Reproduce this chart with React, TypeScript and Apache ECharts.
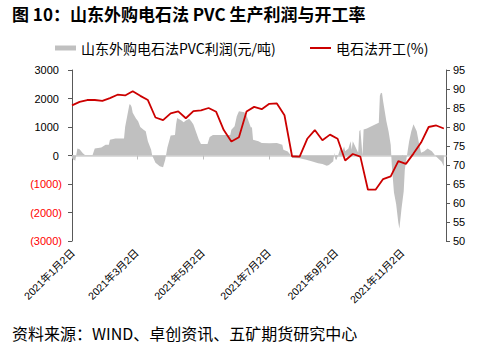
import React, { useEffect, useRef } from "react";
import * as echarts from "echarts";

// 山东外购电石法PVC利润 (元/吨)
const profitDates = [
  "2021-01-01","2021-01-04","2021-01-06","2021-01-08","2021-01-11","2021-01-13","2021-01-20","2021-01-22","2021-01-28",
  "2021-02-01","2021-02-04","2021-02-05","2021-02-10","2021-02-18","2021-02-19","2021-02-23","2021-02-24","2021-02-25","2021-02-26",
  "2021-03-01","2021-03-03","2021-03-05","2021-03-08","2021-03-10","2021-03-12","2021-03-15","2021-03-16","2021-03-19","2021-03-23","2021-03-26","2021-03-28","2021-03-30",
  "2021-04-02","2021-04-06","2021-04-07","2021-04-08","2021-04-12","2021-04-14","2021-04-16","2021-04-19","2021-04-21","2021-04-23","2021-04-28","2021-04-30",
  "2021-05-06","2021-05-08","2021-05-11","2021-05-27","2021-05-28","2021-05-31",
  "2021-06-02","2021-06-04","2021-06-09","2021-06-11","2021-06-15","2021-06-16","2021-06-17","2021-06-22","2021-06-25",
  "2021-07-02","2021-07-09","2021-07-14","2021-07-15","2021-07-19","2021-07-22","2021-07-23","2021-07-30",
  "2021-08-05","2021-08-10","2021-08-16","2021-08-20","2021-08-24","2021-08-26","2021-08-30","2021-08-31",
  "2021-09-01","2021-09-03","2021-09-06","2021-09-07","2021-09-09","2021-09-10","2021-09-13","2021-09-15","2021-09-16","2021-09-17","2021-09-22","2021-09-23","2021-09-24","2021-09-26","2021-09-27","2021-09-30",
  "2021-10-08","2021-10-11","2021-10-12","2021-10-13","2021-10-14","2021-10-15","2021-10-18","2021-10-20","2021-10-22","2021-10-23","2021-10-25","2021-10-27","2021-10-29","2021-10-30",
  "2021-11-01","2021-11-03","2021-11-04","2021-11-06","2021-11-08","2021-11-10","2021-11-12","2021-11-15","2021-11-17","2021-11-19","2021-11-22","2021-11-25","2021-11-29",
  "2021-12-02","2021-12-06","2021-12-08","2021-12-10"
];
const profitValues = [
  -100,-180,250,220,80,20,20,250,280,
  380,380,550,600,600,1000,1800,1780,1700,1500,
  1300,1200,1000,900,850,500,200,0,-250,-380,-410,-150,280,
  700,720,1100,1320,1230,1170,1230,1290,1200,1090,550,400,
  400,650,720,720,900,1030,
  1380,1550,1520,1400,980,990,550,500,440,
  430,440,380,200,140,0,-90,-100,
  -150,-200,-270,-300,-360,-330,-200,100,
  -150,-50,320,100,320,150,250,500,200,500,100,850,900,0,910,950,
  1100,1150,2100,2200,2180,1900,1200,850,380,-330,-1300,-1700,-2350,-2570,
  -1850,-1250,-500,0,500,850,1100,850,450,100,150,250,150,
  0,-150,-220,-380
];

// 电石法开工 (%) — weekly
const rateDates = [
  "2021-01-01","2021-01-08","2021-01-15","2021-01-22","2021-01-29","2021-02-05","2021-02-12","2021-02-19","2021-02-26","2021-03-05",
  "2021-03-12","2021-03-19","2021-03-26","2021-04-02","2021-04-09","2021-04-16","2021-04-23","2021-04-30","2021-05-07","2021-05-14",
  "2021-05-21","2021-05-28","2021-06-04","2021-06-11","2021-06-18","2021-06-25","2021-07-02","2021-07-09","2021-07-16","2021-07-23",
  "2021-07-30","2021-08-06","2021-08-13","2021-08-20","2021-08-27","2021-09-03","2021-09-10","2021-09-17","2021-09-24","2021-10-01",
  "2021-10-08","2021-10-15","2021-10-22","2021-10-29","2021-11-05","2021-11-12","2021-11-19","2021-11-26","2021-12-03","2021-12-10"
];
const rateValues = [
  85.7, 86.6, 87.1, 87.1, 86.9, 87.6, 88.5, 88.3, 89.4, 88.2,
  87.1, 82.5, 81.8, 83.6, 84.1, 82.3, 84.2, 84.4, 85.0, 84.0,
  79.2, 76.2, 77.3, 84.1, 85.3, 84.7, 86.1, 86.2, 83.1, 72.3,
  72.2, 76.9, 79.2, 76.5, 78.0, 76.9, 71.2, 72.9, 72.2, 63.5,
  63.5, 66.3, 67.0, 71.0, 70.3, 73.0, 75.9, 80.0, 80.4, 79.6
];

const tickDates = ["2021-01-02", "2021-03-02", "2021-05-02", "2021-07-02", "2021-09-02", "2021-11-02"];
const xMinDate = "2021-01-01";
const xMaxDate = "2021-12-12";

const titleText = "图 10：山东外购电石法 PVC 生产利润与开工率";
const sourceText = "资料来源：WIND、卓创资讯、五矿期货研究中心";
const profitName = "山东外购电石法PVC利润(元/吨)";
const rateName = "电石法开工(%)";

const ts = (s: string) => {
  const [y, m, d] = s.split("-").map(Number);
  return new Date(y, m - 1, d).getTime();
};

const NUM_FONT = "'Liberation Sans', 'Noto Sans CJK SC', sans-serif";
const CJK_FONT = "'Noto Sans CJK SC', sans-serif";

export default function App() {
  const ref = useRef<HTMLDivElement>(null);
  useEffect(() => {
    if (!ref.current) return;
    const chart = echarts.init(ref.current, undefined, { renderer: "svg" });
    const tickTs = tickDates.map(ts);
    const xMin = ts(xMinDate);
    const xMax = ts(xMaxDate);
    chart.setOption({
      animation: false,
      backgroundColor: "#fff",
      title: [
        {
          text: titleText, left: 12, top: 5, padding: 0,
          textStyle: { fontSize: 17, fontWeight: "bold", color: "#000", fontFamily: CJK_FONT },
        },
        {
          text: sourceText, left: 12, top: 325, padding: 0,
          textStyle: { fontSize: 16, fontWeight: "normal", color: "#000", fontFamily: CJK_FONT },
        },
      ],
      legend: [
        {
          data: [profitName], left: 55, top: 41, padding: 0,
          icon: "rect", itemWidth: 21, itemHeight: 5,
          itemStyle: { color: "#c0c0c0" },
          textStyle: { fontSize: 14, color: "#000", fontFamily: CJK_FONT },
        },
        {
          data: [rateName], left: 310, top: 41, padding: 0,
          icon: "rect", itemWidth: 21, itemHeight: 2,
          itemStyle: { color: "#cc0000" },
          textStyle: { fontSize: 14, color: "#000", fontFamily: CJK_FONT },
        },
      ],
      grid: { left: 72, right: 33, top: 70, bottom: 113, containLabel: false },
      xAxis: [
        {
          type: "value", min: xMin, max: xMax, position: "bottom",
          axisLine: { show: false }, axisTick: { show: false }, splitLine: { show: false },
          axisLabel: {
            customValues: tickTs,
            rotate: 45, margin: 10, fontSize: 10.5, color: "#000", fontFamily: NUM_FONT,
            formatter: (v: number) => {
              const d = new Date(v);
              return `${d.getFullYear()}年${d.getMonth() + 1}月${d.getDate()}日`;
            },
          },
        },
        {
          type: "value", min: xMin, max: xMax, position: "top",
          axisLine: { show: true, onZero: true, onZeroAxisIndex: 0, lineStyle: { color: "#d0d0d0", width: 1.5 } },
          axisTick: { show: true, inside: true, length: 4, customValues: tickTs, lineStyle: { color: "#bfbfbf" } },
          axisLabel: { show: false, customValues: tickTs },
          splitLine: { show: false },
        },
      ],
      yAxis: [
        {
          type: "value", min: -3000, max: 3000, interval: 1000, position: "left",
          axisLine: { show: true, lineStyle: { color: "#595959", width: 1 } },
          axisTick: { show: true, length: 4, lineStyle: { color: "#595959" } },
          splitLine: { show: false },
          axisLabel: {
            margin: 10, fontSize: 11, fontFamily: NUM_FONT,
            formatter: (v: number) => (v < 0 ? `(${-v})` : `${v} `),
            color: (v: any) => (Number(v) < 0 ? "#ff0000" : "#000"),
          },
        },
        {
          type: "value", min: 50, max: 95, interval: 5, position: "right",
          axisLine: { show: true, lineStyle: { color: "#595959", width: 1 } },
          axisTick: { show: true, length: 4, lineStyle: { color: "#595959" } },
          splitLine: { show: false },
          axisLabel: { margin: 7, fontSize: 11, color: "#000", fontFamily: NUM_FONT },
        },
      ],
      series: [
        {
          name: profitName, type: "line", xAxisIndex: 0, yAxisIndex: 0,
          data: profitDates.map((d, i) => [ts(d), profitValues[i]]),
          symbol: "none", showSymbol: false, z: 1,
          lineStyle: { width: 0, opacity: 0 },
          itemStyle: { color: "#c0c0c0" },
          areaStyle: { color: "#c0c0c0", opacity: 1 },
        },
        {
          name: rateName, type: "line", xAxisIndex: 0, yAxisIndex: 1,
          data: rateDates.map((d, i) => [ts(d), rateValues[i]]),
          symbol: "none", showSymbol: false, z: 3,
          lineStyle: { color: "#cc0000", width: 1.8 },
          itemStyle: { color: "#cc0000" },
        },
      ],
    });
    return () => chart.dispose();
  }, []);
  return (
    <div
      ref={ref}
      style={{ position: "absolute", left: 0, top: 0, width: 479, height: 354, background: "#fff" }}
    />
  );
}
